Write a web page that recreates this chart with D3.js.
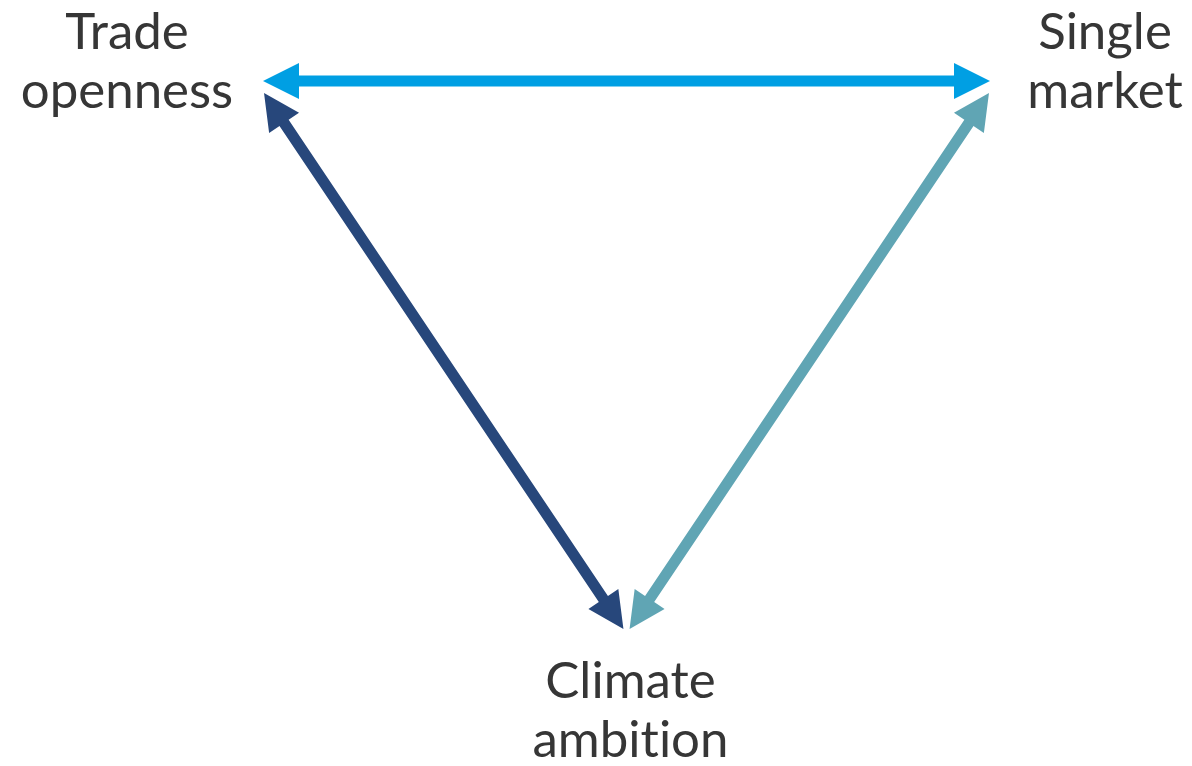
<!DOCTYPE html>
<html>
<head>
<meta charset="utf-8">
<script src="https://cdn.jsdelivr.net/npm/d3@7"></script>
<style>
  html, body { margin: 0; padding: 0; background: #ffffff; }
  svg { display: block; }
  text { font-variant-ligatures: none; font-feature-settings: "liga" 0, "clig" 0; }
</style>
</head>
<body>
<svg id="chart" width="1192" height="766"></svg>
<script>
// ---- data ----
const nodeIds    = ["trade", "single", "climate"];
const nodeLines  = [["Trade", "openness"], ["Single", "market"], ["Climate", "ambition"]];
const nodeX      = [0, 1, 0.5];   // abstract triangle coordinates
const nodeY      = [0, 0, 1];
const linkSource = ["trade", "trade", "single"];
const linkTarget = ["single", "climate", "climate"];
const linkColors = ["#009fe3", "#27477b", "#60a5b4"];

// ---- scales ----
const x = d3.scaleLinear().domain([0, 1]).range([256, 997]);
const y = d3.scaleLinear().domain([0, 1]).range([81, 633.5]);

const svg = d3.select("#chart");
const nodes = nodeIds.map((id, i) => ({ id, lines: nodeLines[i], px: x(nodeX[i]), py: y(nodeY[i]), top: nodeY[i] === 0 }));
const byId = Object.fromEntries(nodes.map(n => [n.id, n]));
const links = linkSource.map((s, i) => ({ s: byId[s], t: byId[linkTarget[i]], color: linkColors[i] }));

const shaftW = 11, headL = 36, headHW = 18;

function gapFor(node, other) {
  if (!node.top) return 5.5;             // bottom vertex
  return other.top ? 7 : 14.4;           // top vertices
}

function arrowPath(l) {
  const dx = l.t.px - l.s.px, dy = l.t.py - l.s.py;
  const len = Math.hypot(dx, dy);
  const ux = dx / len, uy = dy / len, nx = -uy, ny = ux;
  const g0 = gapFor(l.s, l.t), g1 = gapFor(l.t, l.s);
  const A = [l.s.px + ux * g0, l.s.py + uy * g0];
  const B = [l.t.px - ux * g1, l.t.py - uy * g1];
  const Ab = [A[0] + ux * headL, A[1] + uy * headL];
  const Bb = [B[0] - ux * headL, B[1] - uy * headL];
  const p = (pt, k) => [pt[0] + nx * k, pt[1] + ny * k];
  const pts = [
    A,
    p(Ab, headHW), p(Ab, shaftW / 2), p(Bb, shaftW / 2), p(Bb, headHW),
    B,
    p(Bb, -headHW), p(Bb, -shaftW / 2), p(Ab, -shaftW / 2), p(Ab, -headHW)
  ];
  return d3.line()(pts) + "Z";
}

svg.append("g").selectAll("path")
  .data(links)
  .join("path")
  .attr("d", arrowPath)
  .attr("fill", d => d.color);

// ---- labels ----
const labelCx = { trade: -129, single: 108, climate: 4 };
const labelG = svg.append("g")
  .attr("font-family", "Lato, 'Open Sans', sans-serif")
  .attr("font-size", 51)
  .attr("font-weight", 400)
  .attr("fill", "#363636")
  .attr("text-anchor", "middle");

nodes.forEach(n => {
  const base = n.top ? n.py - 32 : n.py + 64;
  const lineGap = n.top ? 59 : 59;
  const t = labelG.append("text")
    .attr("x", n.px + labelCx[n.id])
    .attr("y", base);
  n.lines.forEach((line, i) => {
    t.append("tspan")
      .attr("x", n.px + labelCx[n.id])
      .attr("dy", i === 0 ? 0 : lineGap)
      .text(line);
  });
});
</script>
</body>
</html>
